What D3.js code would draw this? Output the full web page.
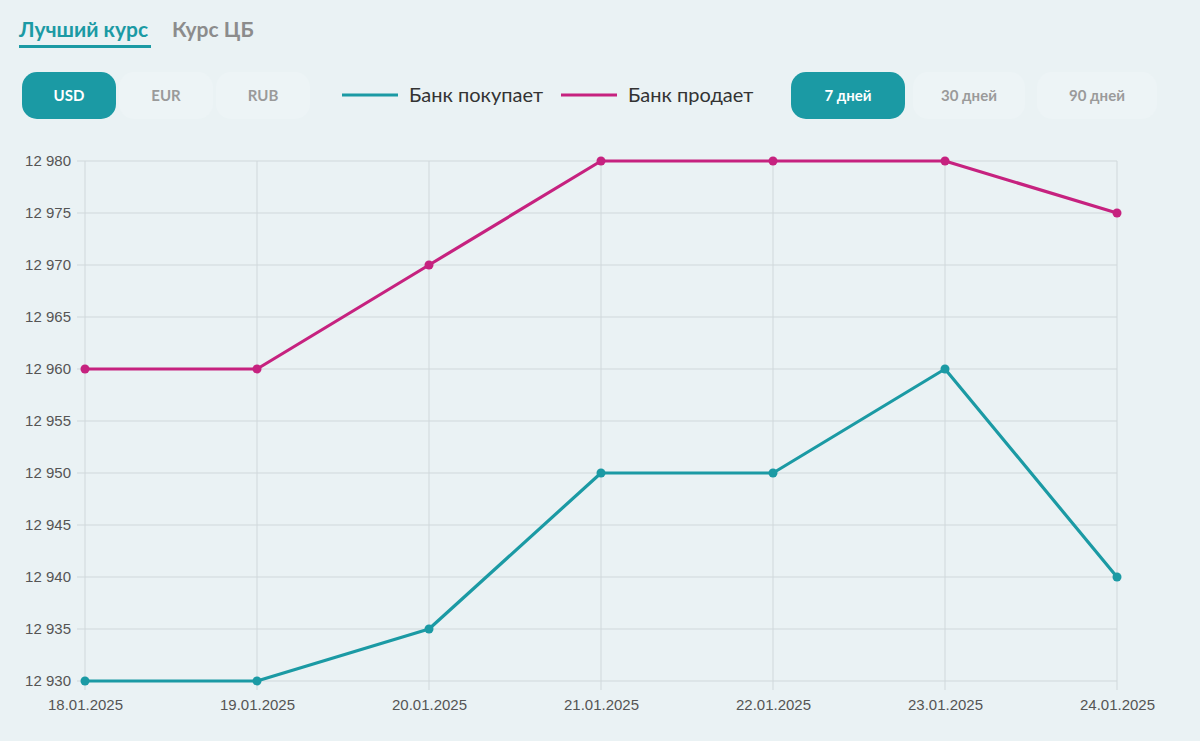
<!DOCTYPE html>
<html><head><meta charset="utf-8">
<script src="https://cdn.jsdelivr.net/npm/d3@7"></script>
<style>
html,body{margin:0;padding:0;background:#eaf2f4;}
svg{display:block;}
</style></head>
<body>
<svg id="c" width="1200" height="741"></svg>
<script>
const dates = ["18.01.2025","19.01.2025","20.01.2025","21.01.2025","22.01.2025","23.01.2025","24.01.2025"];
const buyValues = [12930,12930,12935,12950,12950,12960,12940];
const sellValues = [12960,12960,12970,12980,12980,12980,12975];
const yTicks = [12930,12935,12940,12945,12950,12955,12960,12965,12970,12975,12980];
const seriesNames = ["Банк покупает","Банк продает"];
const currencies = ["USD","EUR","RUB"];
const periods = ["7 дней","30 дней","90 дней"];

const teal = "#1b9aa4", magenta = "#c6227f";
const svg = d3.select("#c");
const uiFont = "Lato, 'Open Sans', sans-serif";
const chartFont = "'Liberation Sans', Arial, sans-serif";

// Top tabs
svg.append("text").attr("x",19).attr("y",37).attr("font-family",uiFont).attr("font-weight",700)
  .attr("font-size",21).attr("fill",teal).text("Лучший курс");
svg.append("rect").attr("x",19).attr("y",45).attr("width",132).attr("height",3).attr("fill",teal);
svg.append("text").attr("x",172).attr("y",37).attr("font-family",uiFont).attr("font-weight",700)
  .attr("font-size",21).attr("fill","#8c8c8c").text("Курс ЦБ");

// Currency buttons
const curX = [22,119,216];
currencies.forEach((c,i)=>{
  const active = i===0;
  svg.append("rect").attr("x",curX[i]).attr("y",72).attr("width",94).attr("height",47).attr("rx",15)
    .attr("fill",active?teal:"#edf4f6");
  svg.append("text").attr("x",curX[i]+47).attr("y",101).attr("text-anchor","middle")
    .attr("font-family",uiFont).attr("font-weight",700).attr("font-size",15)
    .attr("fill",active?"#fff":"#9a9a9a").text(c);
});

// Legend
const legX = [342,561];
[teal,magenta].forEach((col,i)=>{
  svg.append("line").attr("x1",legX[i]).attr("x2",legX[i]+56).attr("y1",95).attr("y2",95)
    .attr("stroke",col).attr("stroke-width",3);
  svg.append("text").attr("x",legX[i]+67).attr("y",102).attr("font-family",uiFont)
    .attr("font-size",20).attr("fill","#333").text(seriesNames[i]);
});

// Period buttons
const perX = [791,913,1037];
const perW = [114,112,120];
periods.forEach((p,i)=>{
  const active = i===0;
  svg.append("rect").attr("x",perX[i]).attr("y",72).attr("width",perW[i]).attr("height",47).attr("rx",15)
    .attr("fill",active?teal:"#edf4f6");
  svg.append("text").attr("x",perX[i]+perW[i]/2).attr("y",101).attr("text-anchor","middle")
    .attr("font-family",uiFont).attr("font-weight",700).attr("font-size",15)
    .attr("fill",active?"#fff":"#9a9a9a").text(p);
});

// Chart
const x = d3.scalePoint().domain(dates).range([85,1117]);
const y = d3.scaleLinear().domain([12930,12980]).range([681,161]);
const fmt = v => d3.format(",")(v).replace(",", " ");
const gridCol = "#d0d8db";

const g = svg.append("g");
g.selectAll("line.h").data(yTicks).join("line").attr("class","h")
  .attr("x1",77).attr("x2",1117).attr("y1",d=>y(d)).attr("y2",d=>y(d))
  .attr("stroke",gridCol).attr("stroke-width",1);
g.selectAll("line.v").data(dates).join("line").attr("class","v")
  .attr("x1",d=>x(d)).attr("x2",d=>x(d)).attr("y1",161).attr("y2",690)
  .attr("stroke",gridCol).attr("stroke-width",1);

const yAxis = d3.axisLeft(y).tickValues(yTicks).tickFormat(fmt).tickSize(0).tickPadding(0);
const ya = svg.append("g").attr("transform","translate(71,0)").call(yAxis);
ya.select(".domain").remove();
ya.selectAll("text").attr("font-family",chartFont).attr("font-size",15).attr("fill","#555");

const xAxis = d3.axisBottom(x).tickSize(0).tickPadding(0);
const xa = svg.append("g").attr("transform","translate(0,699)").call(xAxis);
xa.select(".domain").remove();
xa.selectAll("text").attr("font-family",chartFont).attr("font-size",15).attr("fill","#555").attr("dy","0.71em");

const series = [{vals:sellValues,col:magenta},{vals:buyValues,col:teal}];
series.forEach(s=>{
  const data = dates.map((d,i)=>({d,v:s.vals[i]}));
  svg.append("path").datum(data)
    .attr("d",d3.line().x(p=>x(p.d)).y(p=>y(p.v)))
    .attr("fill","none").attr("stroke",s.col).attr("stroke-width",3.2).attr("stroke-linejoin","round");
  svg.selectAll(null).data(data).join("circle")
    .attr("cx",p=>x(p.d)).attr("cy",p=>y(p.v)).attr("r",4.5).attr("fill",s.col);
});
</script>
</body></html>
